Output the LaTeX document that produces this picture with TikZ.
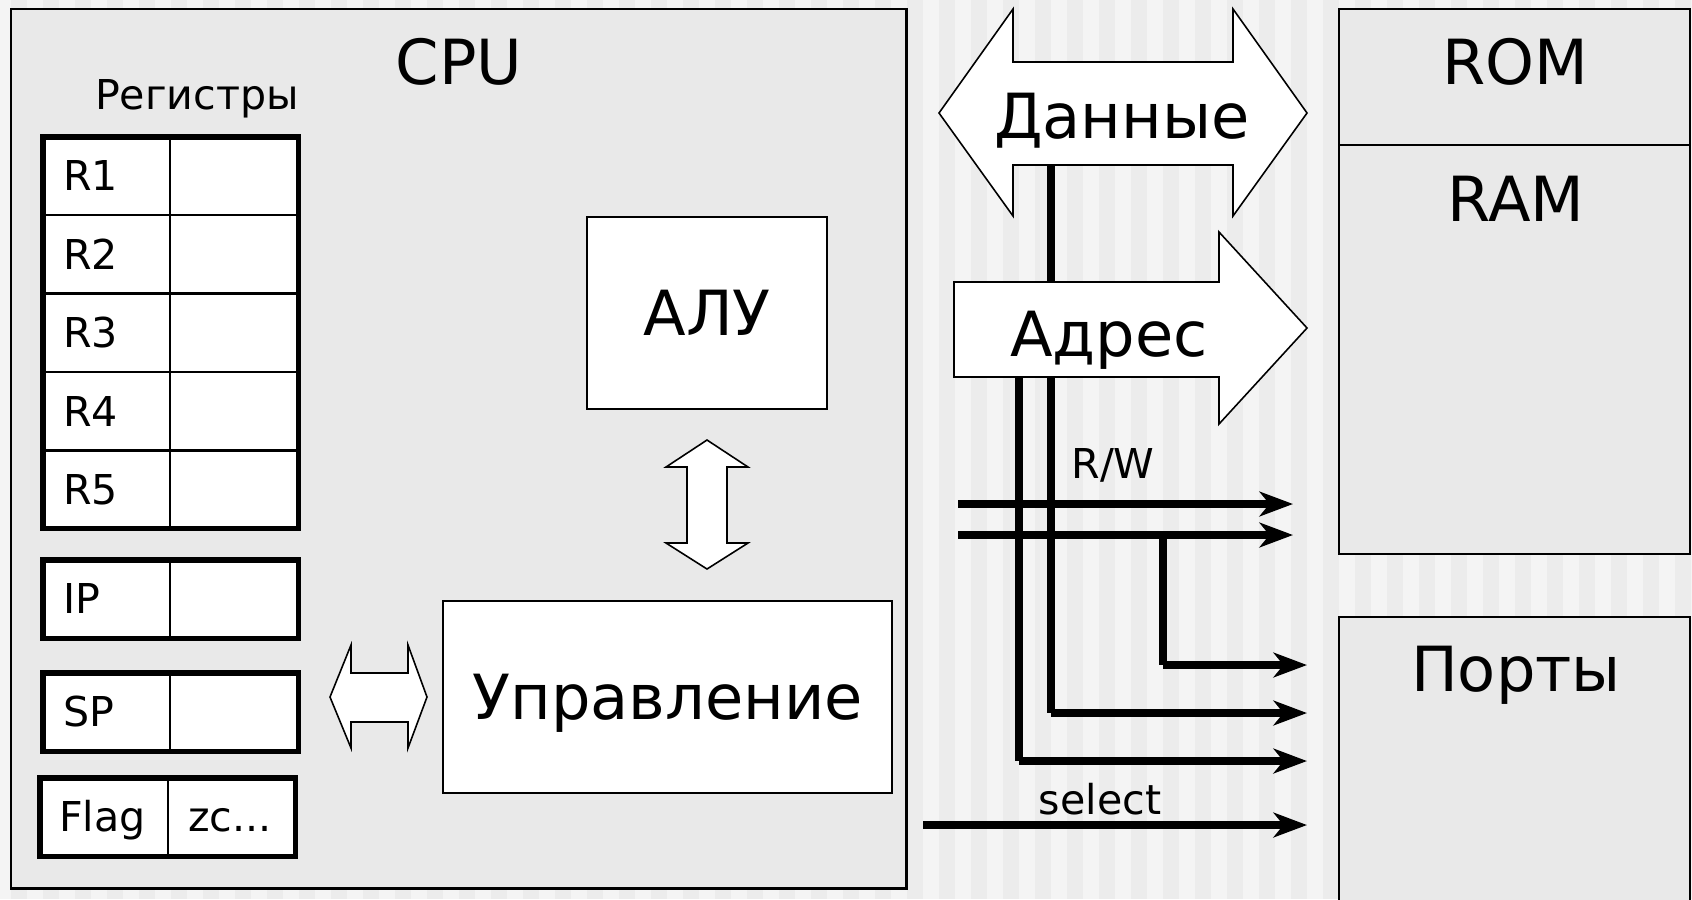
\documentclass[tikz,border=0pt]{standalone}
\usepackage{fontspec}
\setmainfont{DejaVu Sans}
\usetikzlibrary{arrows.meta}

\definecolor{stripeL}{HTML}{F4F4F4}
\definecolor{stripeD}{HTML}{ECECEC}
\definecolor{panel}{HTML}{E9E9E9}

\newcommand\fntbig{\fontsize{17.7pt}{20pt}\selectfont}
\newcommand\fntsmall{\fontsize{11.7pt}{14pt}\selectfont}

\begin{document}
\begin{tikzpicture}[
  x=0.01cm, y=-0.01cm,
  every node/.style={inner sep=0pt, outer sep=0pt},
  panelbox/.style={draw=black, line width=0.6pt, fill=panel, anchor=north west},
  unitbox/.style={draw=black, line width=0.6pt, fill=white, anchor=north west,
    font=\fntbig, text height=12.9pt, text depth=0pt},
  regcell/.style={draw=black, line width=0.55pt, fill=white, anchor=north west,
    minimum height=0.78cm, font=\fntsmall, text height=8.5pt, text depth=0pt,
    align=left, inner xsep=0.2cm},
  regframe/.style={draw=black, line width=1.45pt},
  fatarrow/.style={draw=black, line width=0.45pt, fill=white, line join=miter},
  bus/.style={line width=2.3pt},
  busarrow/.style={bus, -{Stealth[length=9.5pt, width=7pt, inset=2.8pt]}},
  bigtext/.style={font=\fntbig, anchor=base},
  smalltext/.style={font=\fntsmall, anchor=base},
]
\useasboundingbox (0,0) rectangle (1692,899);

% striped backdrop
\fill[stripeL] (0,0) rectangle (1692,899);
\foreach \k in {0,...,52}
  \fill[stripeD] ({11+32*\k},0) rectangle ({27+32*\k},899);

% processor panel
\node[panelbox, minimum width=8.95cm, minimum height=8.79cm] (cpu) at (11,9) {};
\node[bigtext] (cputxt) at (459,84) {CPU};
\node[smalltext, anchor=base west] (regtxt) at (95,109) {Регистры};

% general purpose registers
\foreach \n [count=\i from 0] in {R1,R2,R3,R4,R5} {
  \node[regcell, text width=0.87cm] (reg\n) at (43,{137+78.4*\i}) {\n};
  \node[regcell, text width=0.88cm] (val\n) at (170,{137+78.4*\i}) {};
}
\draw[regframe] (regR1.north west) rectangle (valR5.south east);

% special registers
\node[regcell, text width=0.87cm] (regIP) at (43,560) {IP};
\node[regcell, text width=0.88cm] (valIP) at (170,560) {};
\draw[regframe] (regIP.north west) rectangle (valIP.south east);

\node[regcell, text width=0.87cm] (regSP) at (43,673) {SP};
\node[regcell, text width=0.88cm] (valSP) at (170,673) {};
\draw[regframe] (regSP.north west) rectangle (valSP.south east);

\node[regcell, text width=0.90cm, inner xsep=0.19cm] (regFlag) at (40,778) {Flag};
\node[regcell, text width=0.87cm] (valFlag) at (168,778) {zc...};
\draw[regframe] (regFlag.north west) rectangle (valFlag.south east);

% arithmetic unit and control unit
\node[unitbox, minimum width=2.40cm, minimum height=1.92cm] (alu) at (587,217) {АЛУ};
\node[unitbox, minimum width=4.49cm, minimum height=1.92cm] (ctrl) at (443,601) {Управление};

% exchange arrows inside the processor
\draw[fatarrow] (330,697) -- (351,645) -- (351,673) -- (408,673) -- (408,645)
  -- (427,697) -- (408,748) -- (408,722) -- (351,722) -- (351,748) -- cycle;
\draw[fatarrow] (707,440) -- (748,467) -- (727,467) -- (727,543) -- (748,543)
  -- (707,569) -- (666,543) -- (687,543) -- (687,467) -- (666,467) -- cycle;

% memory and ports
\node[panelbox, minimum width=3.51cm, minimum height=1.36cm] (rom) at (1339,9) {};
\node[panelbox, minimum width=3.51cm, minimum height=4.09cm] (ram) at (1339,145) {};
\node[panelbox, minimum width=3.51cm, minimum height=2.95cm] (ports) at (1339,617) {};
\node[bigtext] (romtxt) at (1515,84) {ROM};
\node[bigtext] (ramtxt) at (1516,221) {RAM};
\node[bigtext] (portstxt) at (1516,691) {Порты};

% bus wires
\coordinate (aTop) at (1051,166);
\coordinate (aBend) at (1051,713);
\coordinate (aEnd) at (1307,713);
\coordinate (bTop) at (1019,370);
\coordinate (bBend) at (1019,761);
\coordinate (bEnd) at (1307,761);
\coordinate (rw1a) at (958,504);
\coordinate (rw1b) at (1293,504);
\coordinate (rw2a) at (958,535);
\coordinate (rw2b) at (1293,535);
\coordinate (brTop) at (1163,535);
\coordinate (brBend) at (1163,665);
\coordinate (brEnd) at (1307,665);
\coordinate (selA) at (923,825);
\coordinate (selB) at (1307,825);

\draw[bus] (aTop) -- (aBend);
\draw[busarrow] (aBend) -- (aEnd);
\draw[bus] (bTop) -- (bBend);
\draw[busarrow] (bBend) -- (bEnd);
\draw[busarrow] (rw1a) -- (rw1b);
\draw[busarrow] (rw2a) -- (rw2b);
\draw[bus] (brTop) -- (brBend);
\draw[busarrow] (brBend) -- (brEnd);
\draw[busarrow] (selA) -- (selB);

\node[smalltext] (rwtxt) at (1113,478) {R/W};
\node[smalltext] (seltxt) at (1100,814) {select};

% data and address buses
\draw[fatarrow] (939,113) -- (1013,9) -- (1013,62) -- (1233,62) -- (1233,9)
  -- (1307,113) -- (1233,216) -- (1233,165) -- (1013,165) -- (1013,216) -- cycle;
\node[bigtext] (datatxt) at (1122,138) {Данные};

\draw[fatarrow] (954,282) -- (1219,282) -- (1219,232) -- (1307,328)
  -- (1219,424) -- (1219,377) -- (954,377) -- cycle;
\node[bigtext] (addrtxt) at (1109,356) {Адрес};

\end{tikzpicture}
\end{document}
